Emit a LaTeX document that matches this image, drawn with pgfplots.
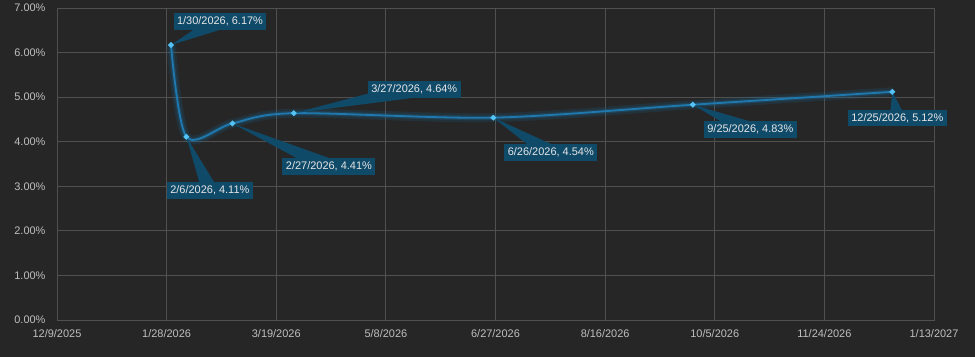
\documentclass[border=0pt]{standalone}
\usepackage{fontspec}
\setmainfont{Liberation Sans}
\usepackage{pgfplots}
\usepackage{pgfplotstable}
\pgfplotsset{compat=1.18}
\usetikzlibrary{calc}
\definecolor{bg}{HTML}{262626}
\definecolor{gridc}{HTML}{505050}
\definecolor{tickc}{HTML}{BFBFBF}
\definecolor{linec}{HTML}{1F78AE}
\definecolor{glowc}{HTML}{1A6A9A}
\definecolor{markc}{HTML}{55C2F5}
\definecolor{boxc}{HTML}{104A69}
\definecolor{labc}{HTML}{E6E6E6}

\pgfplotstableread{
d v
52 6.17
59 4.11
80 4.41
108 4.64
199 4.54
290 4.83
381 5.12
}\datatable

\newcommand{\callout}[5]{%
  \coordinate (P) at (axis cs:#1,#2);
  \coordinate (C) at ($(P)+(#3bp,#4bp)$);
  \fill[boxc] (P) -- ($(C)!8bp!90:(P)$) -- ($(C)!8bp!-90:(P)$) -- cycle;
  \node[fill=boxc, text=labc, inner xsep=3.5bp, inner ysep=3bp, text height=8.5bp, text depth=2bp,
        font=\fontsize{11}{13}\selectfont] at (C) {#5};
}

\begin{document}
\begin{tikzpicture}
\fill[bg] (0,0) rectangle (975bp,357bp);
\useasboundingbox (0,0) rectangle (975bp,357bp);
\begin{axis}[at={(57bp,37bp)}, anchor=south west, scale only axis,
  width=877bp, height=312bp,
  xmin=0, xmax=400, ymin=0, ymax=7,
  xtick={0,50,...,400},
  xticklabels={12/9/2025,1/28/2026,3/19/2026,5/8/2026,6/27/2026,8/16/2026,10/5/2026,11/24/2026,1/13/2027},
  ytick={0,1,...,7},
  yticklabel={\pgfmathprintnumber[fixed,fixed zerofill,precision=2]{\tick}\%},
  /pgf/number format/assume math mode=true,
  grid=major, major grid style={draw=gridc, line width=0.8bp},
  axis line style={draw=gridc, line width=0.8bp},
  tick style={draw=none},
  ticklabel style={font=\fontsize{11}{13}\selectfont, text=tickc},
  xticklabel style={yshift=-6bp},
  yticklabel style={xshift=-8bp},
  clip=false,
]
\addplot[glowc, opacity=0.18, line width=9bp, smooth, no markers] table[x=d,y=v] {\datatable};
\addplot[glowc, opacity=0.3, line width=4.5bp, smooth, no markers] table[x=d,y=v] {\datatable};
\addplot[linec, line width=1.8bp, smooth, mark=*, mark size=1.8bp,
  mark options={fill=markc, draw=markc}] table[x=d,y=v] {\datatable};

\callout{52}{6.17}{49}{23.5}{1/30/2026, 6.17\%}
\callout{59}{4.11}{23.5}{-53.5}{2/6/2026, 4.11\%}
\callout{80}{4.41}{96.5}{-43}{2/27/2026, 4.41\%}
\callout{108}{4.64}{120.5}{23.5}{3/27/2026, 4.64\%}
\callout{199}{4.54}{57.5}{-35}{6/26/2026, 4.54\%}
\callout{290}{4.83}{57.5}{-25}{9/25/2026, 4.83\%}
\callout{381}{5.12}{5}{-26}{12/25/2026, 5.12\%}
\end{axis}
\end{tikzpicture}
\end{document}
